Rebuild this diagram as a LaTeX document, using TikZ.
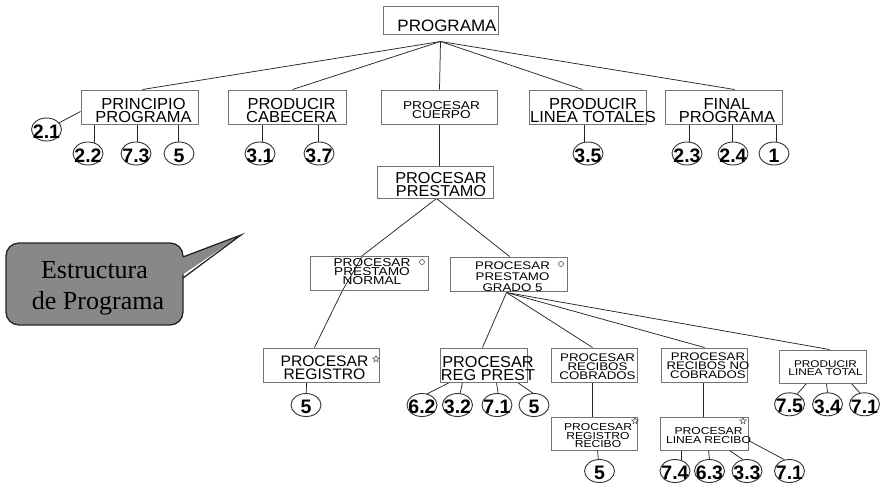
\documentclass[tikz,border=0pt]{standalone}
\usepackage{fontspec}
\setmainfont{Liberation Sans}
\newfontfamily\smf[FakeStretch=1.2]{Liberation Sans}
\newfontfamily\bgf[FakeStretch=1.03]{Liberation Sans}
\newfontfamily\serf{Liberation Serif}
\usetikzlibrary{shapes.geometric,fit,calc}
\pgfdeclarelayer{bg}
\pgfsetlayers{bg,main}
\definecolor{calgray}{RGB}{136,136,136}
\newcommand\fsz[2]{\fontsize{#1}{#2}\selectfont\lineskiplimit=-30pt\relax}
\newcommand\bx[5]{\node[box, fit={(#2,#3) (#4,#5)}] (#1) {};}
\newcommand\nm[4]{\node[numel] (#1) at (#2,#3) {}; \node[numtx] (#1t) at ([yshift=-2pt]#1.center) {#4};}
\begin{document}
\begin{tikzpicture}[x=1pt,y=-1pt,
  box/.style={draw=black!55, line width=1pt, inner sep=0pt, rectangle},
  tx/.style={inner sep=0pt, align=center, text=black},
  numel/.style={ellipse, draw=black!80, line width=0.9pt, fill=white, minimum width=30pt, minimum height=23pt, inner sep=0pt},
  numtx/.style={inner sep=0pt, font=\bfseries\fsz{19.5}{20}},
  conn/.style={draw=black!85, line width=0.75pt},
  smallo/.style={circle, draw=black!70, line width=0.6pt, minimum size=5pt, inner sep=0pt},
  starmk/.style={star, star points=5, star point ratio=2.3, draw=black!70, line width=0.5pt, minimum size=7pt, inner sep=0pt},
  calline/.style={draw=black!85, line width=1.3pt}]
\path[use as bounding box] (0,0) rectangle (882,488);

% boxes
\bx{prog}{383}{6}{498}{34}
\bx{pp}{81}{90}{198}{124}
\bx{pc}{228}{90}{346}{124}
\bx{pcu}{381}{90}{497}{124}
\bx{plt}{529}{90}{646}{124}
\bx{fp}{665}{90}{782}{124}
\bx{prest}{377}{166}{493}{198}
\bx{norm}{310}{256}{428}{290}
\bx{g5}{450}{257}{567}{291}
\bx{reg}{263}{348}{379}{382}
\bx{rp}{440}{348}{527}{382}
\bx{cob}{551}{348}{637}{382}
\bx{ncob}{661}{348}{747}{382}
\bx{tot}{779}{350}{866}{383}
\bx{rr}{551}{417}{637}{450}
\bx{lr}{660}{417}{748}{450}

% box texts
\node[tx, font=\bgf\fsz{16.5}{14}] (progT) at (447,25.5) {PROGRAMA};
\node[tx, font=\bgf\fsz{16}{13}] (ppT) at (143.5,110.7) {PRINCIPIO\\PROGRAMA};
\node[tx, font=\bgf\fsz{16}{13}] (pcT) at (291.5,110.5) {PRODUCIR\\CABECERA};
\node[tx, font=\smf\fsz{11.4}{9}] (pcuT) at (441.5,110.3) {PROCESAR\\CUERPO};
\node[tx, font=\bgf\fsz{16}{13}] (pltT) at (593,110.5) {PRODUCIR\\LINEA TOTALES};
\node[tx, font=\bgf\fsz{16}{13}] (fpT) at (727,110.5) {FINAL\\PROGRAMA};
\node[tx, font=\bgf\fsz{15.8}{13.4}] (prestT) at (441,184.7) {PROCESAR\\PRESTAMO};
\node[tx, font=\smf\fsz{11.4}{9}] (normT) at (372,272) {PROCESAR\\PRESTAMO\\NORMAL};
\node[tx, font=\smf\fsz{11.1}{11}] (g5T) at (512.5,276.5) {PROCESAR\\PRESTAMO\\GRADO 5};
\node[tx, font=\bgf\fsz{15.2}{12.8}] (regT) at (324.5,368) {PROCESAR\\REGISTRO};
\node[tx, font=\bgf\fsz{15.8}{12.8}] (rpT) at (488,368.7) {PROCESAR\\REG PREST};
\node[tx, font=\smf\fsz{11.1}{9}] (cobT) at (597.5,366.8) {PROCESAR\\RECIBOS\\COBRADOS};
\node[tx, font=\smf\fsz{11}{9}] (ncobT) at (708,365.3) {PROCESAR\\RECIBOS NO\\COBRADOS};
\node[tx, font=\smf\fsz{9.8}{8}] (totT) at (825.5,368.6) {PRODUCIR\\LINEA TOTAL};
\node[tx, font=\smf\fsz{10.1}{8.7}] (rrT) at (598,435.7) {PROCESAR\\REGISTRO\\RECIBO};
\node[tx, font=\smf\fsz{10.1}{9}] (lrT) at (708.5,435.3) {PROCESAR\\LINEA RECIBO};

% marks
\node[smallo] (normo) at (422,262) {};
\node[smallo] (g5o) at (561,264) {};
\node[starmk] (regs) at (376,359) {};
\node[starmk] (rrs) at (635,421) {};
\node[starmk] (lrs) at (743,421) {};

% number ellipses
\nm{e21}{46.5}{129.5}{2.1}
\nm{e22}{88}{153.5}{2.2}
\nm{e73}{136}{153.5}{7.3}
\nm{e5a}{179}{153.5}{5}
\nm{e31}{260}{153.5}{3.1}
\nm{e37}{319}{153.5}{3.7}
\nm{e35}{588}{153.5}{3.5}
\nm{e23}{687}{153.5}{2.3}
\nm{e24}{733}{153.5}{2.4}
\nm{e1}{774}{153.5}{1}
\nm{e5b}{306}{405}{5}
\nm{e62}{422}{405}{6.2}
\nm{e32}{457.5}{405}{3.2}
\nm{e71a}{497}{405}{7.1}
\nm{e5c}{534}{405}{5}
\nm{e75}{789.5}{404.3}{7.5}
\nm{e34}{827.5}{404.3}{3.4}
\nm{e71b}{864.5}{404.3}{7.1}
\nm{e5d}{599.5}{471}{5}
\nm{e74}{675}{471}{7.4}
\nm{e63}{709.5}{471}{6.3}
\nm{e33}{747}{471}{3.3}
\nm{e71c}{789.5}{471}{7.1}

% connectors
\begin{pgfonlayer}{bg}
\coordinate (hub) at ([yshift=-7pt]prog.south);
\draw[conn] (hub) -- ([xshift=62pt]pp.north west);
\draw[conn] (hub) -- ([xshift=65pt]pc.north west);
\draw[conn] (hub) -- ([xshift=59pt]pcu.north west);
\draw[conn] (hub) -- ([xshift=54pt]plt.north west);
\draw[conn] (hub) -- ([xshift=70pt]fp.north west);
\draw[conn] ([xshift=59pt]pcu.south west) -- ([xshift=63pt]prest.north west);
\draw[conn] ([yshift=13pt]pp.south west) -- (e21);
\draw[conn] ([xshift=14pt]pp.south west) -- ++(0,20);
\draw[conn] ([xshift=57pt]pp.south west) -- ++(0,20);
\draw[conn] ([xshift=98pt]pp.south west) -- ++(0,20);
\draw[conn] ([xshift=35pt]pc.south west) -- ++(0,20);
\draw[conn] ([xshift=91pt]pc.south west) -- ++(0,20);
\draw[conn] ([xshift=56pt]plt.south west) -- ++(0,20);
\draw[conn] ([xshift=25pt]fp.south west) -- ++(0,20);
\draw[conn] ([xshift=68pt]fp.south west) -- ++(0,20);
\draw[conn] ([xshift=112pt]fp.south west) -- ++(0,20);
\draw[conn] ([xshift=60pt]prest.south west) -- ([xshift=53pt]norm.north west) -- ([xshift=33pt]norm.south west) -- ([xshift=52pt]reg.north west);
\draw[conn] ([xshift=60pt]prest.south west) -- ([xshift=60pt]g5.north west);
\coordinate (g5b) at ([xshift=57pt,yshift=-1pt]g5.south west);
\draw[conn] (g5b) -- ([xshift=43pt]rp.north west);
\draw[conn] (g5b) -- ([xshift=42pt]cob.north west);
\draw[conn] (g5b) -- ([xshift=44pt]ncob.north west);
\draw[conn] (g5b) -- ([xshift=51pt]tot.north west);
\draw[conn] ([xshift=44pt]reg.south west) -- (e5b);
\draw[conn] ([xshift=10pt]rp.south west) -- (e62.65);
\draw[conn] ([xshift=23pt]rp.south west) -- (e32.77);
\draw[conn] ([xshift=57pt]rp.south west) -- (e71a.85);
\draw[conn] ([xshift=78pt]rp.south west) -- (e5c.95);
\draw[conn] ([xshift=28pt]tot.south west) -- (e75.53);
\draw[conn] ([xshift=48pt]tot.south west) -- (e34.north);
\draw[conn] ([xshift=73pt]tot.south west) -- (e71b.112);
\draw[conn] ([xshift=42pt]cob.south west) -- ([xshift=42pt]rr.north west);
\draw[conn] ([xshift=47pt]rr.south west) -- (e5d);
\draw[conn] ([xshift=43pt]ncob.south west) -- ([xshift=44pt]lr.north west);
\draw[conn] ([xshift=22pt]lr.south west) -- ++(0,14);
\draw[conn] ([xshift=49pt]lr.south west) -- (e63.north);
\draw[conn] ([xshift=70pt]lr.south west) -- (e33.110);
\draw[conn] ([yshift=10pt]lr.south east) -- (e71c.114);
\end{pgfonlayer}

% callout
\filldraw[fill=calgray, calline, rounded corners=13pt] (6,243) rectangle (183,325);
\fill[calgray] (179,258) -- (241,235) -- (179,277) -- cycle;
\draw[calline, line join=miter] (183,257) -- (241,235) -- (183,278);
\node[inner sep=0pt, anchor=base, font=\serf\fsz{26}{31}] (calA) at (94.5,278.3) {Estructura};
\node[inner sep=0pt, anchor=base, font=\serf\fsz{26}{31}] (calB) at (98,309) {de Programa};
\end{tikzpicture}
\end{document}
